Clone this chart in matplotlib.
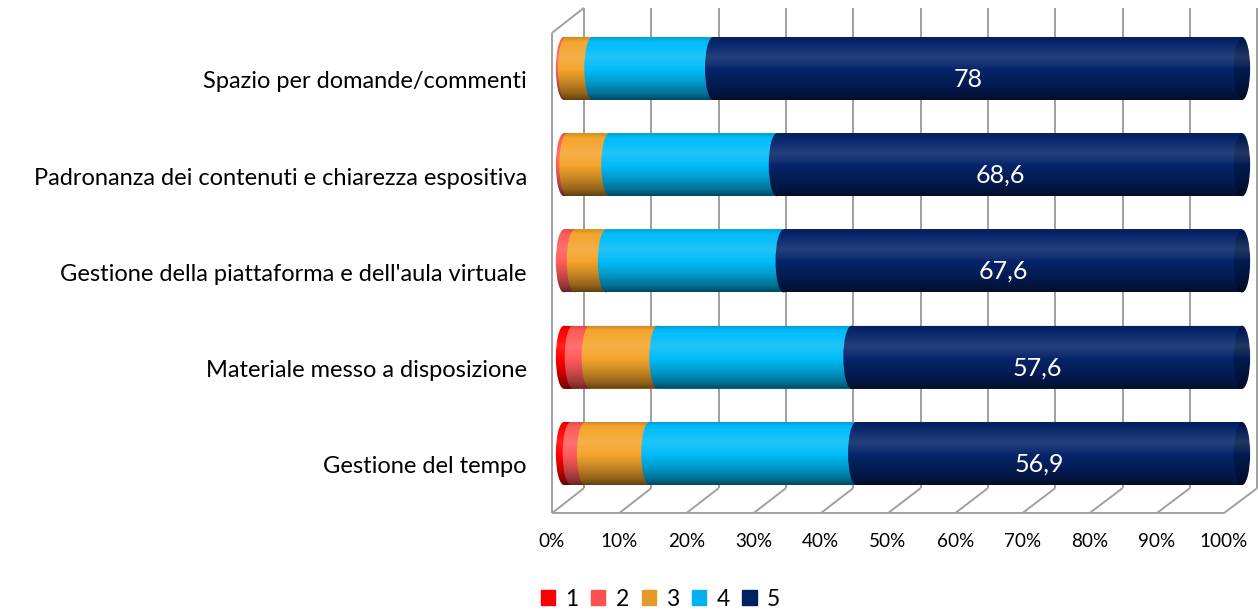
import numpy as np
import matplotlib.pyplot as plt
from matplotlib.patches import Ellipse, PathPatch, Patch
from matplotlib.path import Path

# data (percent of answers per score)
categories = [
    "Spazio per domande/commenti",
    "Padronanza dei contenuti e chiarezza espositiva",
    "Gestione della piattaforma e dell'aula virtuale",
    "Materiale messo a disposizione",
    "Gestione del tempo",
]
series_names = ["1", "2", "3", "4", "5"]
score_1 = [0.0, 0.0, 0.0, 1.3, 1.0]
score_2 = [0.3, 0.5, 1.6, 2.5, 2.1]
score_3 = [3.9, 6.2, 4.6, 10.0, 9.5]
score_4 = [17.8, 24.7, 26.2, 28.6, 30.5]
score_5 = [78.0, 68.6, 67.6, 57.6, 56.9]
value_labels = ["78", "68,6", "67,6", "57,6", "56,9"]
tick_values = list(range(0, 101, 10))

series = [score_1, score_2, score_3, score_4, score_5]
bar_colors = ["#FF0000", "#FF5B5B", "#F4A42C", "#00BCF8", "#06246A"]
legend_colors = ["#FF0000", "#FF5050", "#E49A28", "#00B0F0", "#002060"]
end_face = "#021A4F"

plt.rcParams["font.family"] = ["Lato", "DejaVu Sans"]

fig = plt.figure(figsize=(12.58, 6.11), dpi=100)
ax = fig.add_axes([0.43216, 0.17905, 0.56590, 0.78764])
XLIM = (-3, 102)
YLIM = (4.5, -0.5)
ax.set_xlim(*XLIM)
ax.set_ylim(*YLIM)
ax.axis("off")

y = np.arange(len(categories))
bar_h = 0.655
cap_a = 1.2

# pseudo 3d frame (front / back of the box)
front = lambda p: -1.77 + 0.991 * p
back = lambda p: 2.95 + 0.993 * p
Y_BACK_TOP, Y_SIDE_TOP = -0.63, -0.37
Y_FLOOR_BACK, Y_FLOOR_FRONT = 4.36, 4.62
Y_TICK = 4.91
grid_kw = dict(color="#A0A0A0", lw=1.4, clip_on=False, zorder=1, solid_capstyle="butt")

for p in tick_values:
    ax.plot([back(p), back(p)], [Y_BACK_TOP, Y_FLOOR_BACK], **grid_kw)
    ax.plot([front(p), back(p)], [Y_FLOOR_FRONT, Y_FLOOR_BACK], **grid_kw)
    ax.text(front(p), Y_TICK, f"{p}%", ha="center", va="center", fontsize=13.6)
ax.plot([front(0), front(100)], [Y_FLOOR_FRONT] * 2, **grid_kw)
ax.plot([front(0)] * 2, [Y_SIDE_TOP, Y_FLOOR_FRONT], **grid_kw)
ax.plot([front(0), back(0)], [Y_SIDE_TOP, Y_BACK_TOP], **grid_kw)

# stacked cylinders
left = np.zeros(len(categories))
for k, vals in enumerate(series):
    vals = np.array(vals)
    ax.barh(y, vals, left=left, height=bar_h, color=bar_colors[k], lw=0, zorder=2 + 2 * k)
    for i in range(len(y)):
        if vals[i] > 0:
            ax.add_patch(Ellipse((left[i], y[i]), 2 * cap_a, bar_h, color=bar_colors[k],
                                 lw=0, zorder=3 + 2 * k))
    left += vals
total = left

# end face
for i in range(len(y)):
    ax.add_patch(Ellipse((total[i], y[i]), 2 * cap_a, bar_h, color=end_face, lw=0, zorder=13))

# cylinder shading
t = np.linspace(0, 1, 64)
shade = np.interp(t, [0, 0.08, 0.33, 0.48, 0.72, 0.9, 1.0],
                  [0.18, 0.0, -0.13, -0.04, 0.18, 0.4, 0.6])
rgba = np.zeros((64, 1, 4))
rgba[shade < 0, :, :3] = 1.0
rgba[:, 0, 3] = np.abs(shade)

th = np.linspace(np.pi / 2, 3 * np.pi / 2, 40)
for i in range(len(y)):
    lx = cap_a * np.cos(th)
    ly = y[i] + bar_h / 2 * np.sin(th)
    rx = total[i] + cap_a * np.cos(th - np.pi)
    ry = y[i] + bar_h / 2 * np.sin(th - np.pi)
    verts = np.vstack([np.column_stack([lx, ly]), np.column_stack([rx, ry]), [[lx[0], ly[0]]]])
    clip = PathPatch(Path(verts, closed=True), fc="none", ec="none", transform=ax.transData)
    ax.add_patch(clip)
    im = ax.imshow(rgba, extent=(-cap_a, total[i] + cap_a, y[i] + bar_h / 2, y[i] - bar_h / 2),
                   aspect="auto", interpolation="bilinear", zorder=14)
    im.set_clip_path(clip)

ax.set_xlim(*XLIM)
ax.set_ylim(*YLIM)

# labels
for i, name in enumerate(categories):
    ax.text(-5.46, y[i] + 0.14, name, ha="right", va="center", fontsize=17, clip_on=False)
    start = total[i] - score_5[i]
    ax.text((start + total[i]) / 2 - 1.4, y[i] + 0.11, value_labels[i], color="white",
            ha="center", va="center", fontsize=18, zorder=20)

handles = [Patch(color=c, label=n) for c, n in zip(legend_colors, series_names)]
fig.legend(handles=handles, loc="center", bbox_to_anchor=(0.525, 0.0196), ncol=5,
           frameon=False, fontsize=16.5, handlelength=0.62, handleheight=0.62,
           handletextpad=0.45, columnspacing=0.55, borderaxespad=0)

fig.savefig("out.png", dpi=100)
